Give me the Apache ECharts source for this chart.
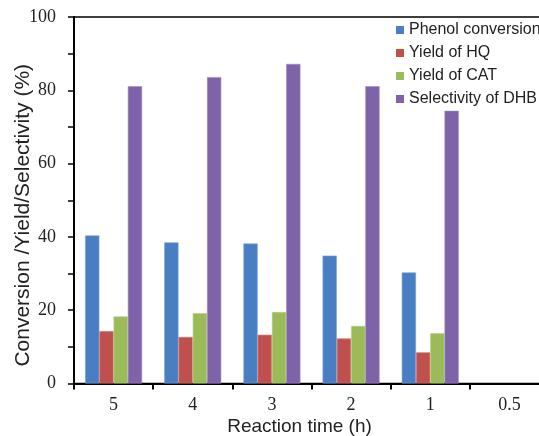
<!DOCTYPE html>
<html>
<head>
<meta charset="utf-8">
<script src="https://cdn.jsdelivr.net/npm/echarts@6/dist/echarts.min.js"></script>
<style>
html,body{margin:0;padding:0;background:#fff;}
#c{width:539px;height:436px;}
</style>
</head>
<body>
<div id="c"></div>
<script>
var categories = ['5', '4', '3', '2', '1', '0.5'];
var phenolConversion = [40.4, 38.5, 38.2, 34.9, 30.3, null];
var yieldHQ = [14.3, 12.7, 13.3, 12.3, 8.5, null];
var yieldCAT = [18.3, 19.2, 19.5, 15.7, 13.7, null];
var selectivityDHB = [81.1, 83.6, 87.2, 81.1, 74.4, null];
var seriesNames = ['Phenol conversion', 'Yield of HQ', 'Yield of CAT', 'Selectivity of DHB'];
var colors = ['#4a7ec2', '#c0504d', '#9bbb59', '#7f63a8'];
var borders = ['#7aa3d8', '#d07c7a', '#b3cc82', '#a08bc2'];

var chart = echarts.init(document.getElementById('c'), null, {renderer: 'canvas'});
var sans = 'Liberation Sans, Arial, sans-serif';
var serif = 'Liberation Serif, Times New Roman, serif';

function bar(i, data) {
  return {
    name: seriesNames[i],
    type: 'bar',
    data: data,
    barGap: 0,
    barCategoryGap: '28%',
    itemStyle: {color: colors[i], borderColor: borders[i], borderWidth: 0.6},
    emphasis: {disabled: true}
  };
}

chart.setOption({
  animation: false,
  backgroundColor: '#fff',
  grid: {
    left: 74, top: 17, bottom: 52.5, right: -10,
    containLabel: false,
    outerBoundsMode: 'none',
    show: true, borderColor: '#000', borderWidth: 1.5, backgroundColor: 'transparent'
  },
  legend: {
    orient: 'vertical',
    left: 396, top: 22,
    padding: 0,
    itemWidth: 8, itemHeight: 8, itemGap: 7, itemTextGap: 3,
    icon: 'rect',
    itemStyle: {borderWidth: 0},
    textStyle: {fontFamily: sans, fontSize: 16, color: '#222'},
    data: seriesNames
  },
  xAxis: {
    type: 'category',
    data: categories,
    axisLine: {lineStyle: {color: '#000', width: 2}},
    axisTick: {show: true, length: 6, inside: false, lineStyle: {color: '#000', width: 2}},
    axisLabel: {fontFamily: serif, fontSize: 18, color: '#222', margin: 13},
    name: 'Reaction time (h)',
    nameLocation: 'middle',
    nameGap: 34,
    nameMoveOverlap: false,
    nameTextStyle: {fontFamily: sans, fontSize: 19, color: '#222', padding: [0, 24, 0, 0]}
  },
  yAxis: {
    type: 'value',
    min: 0, max: 100, interval: 10,
    axisLine: {show: true, lineStyle: {color: '#000', width: 2}},
    axisTick: {show: true, length: 6, inside: false, lineStyle: {color: '#000', width: 1.5}},
    axisLabel: {
      fontFamily: serif, fontSize: 18, color: '#222', margin: 18,
      formatter: function (v) { return v % 20 === 0 ? String(v) : ''; }
    },
    splitLine: {show: false},
    name: 'Conversion /Yield/Selectivity (%)',
    nameLocation: 'middle',
    nameRotate: 90,
    nameGap: 40,
    nameMoveOverlap: false,
    nameTextStyle: {fontFamily: sans, fontSize: 21, color: '#222', padding: [0, 30, 0, 0]}
  },
  series: [
    bar(0, phenolConversion),
    bar(1, yieldHQ),
    bar(2, yieldCAT),
    bar(3, selectivityDHB)
  ]
});
</script>
</body>
</html>
